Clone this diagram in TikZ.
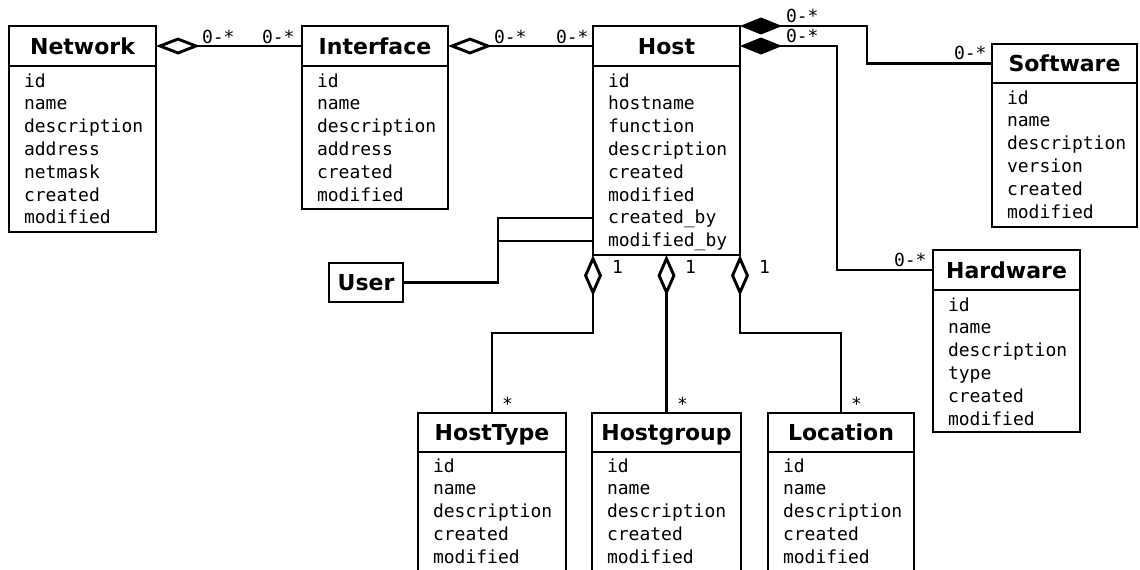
\documentclass[tikz,border=0pt]{standalone}
\usepackage{fontspec}
\newfontfamily\hdrfont{DejaVu Sans}
\newfontfamily\attrfont{DejaVu Sans Mono}
\usetikzlibrary{arrows.meta}
\tikzset{
  hdr/.style={draw, line width=2.9pt, rectangle, minimum height=40pt, inner sep=0pt, outer sep=0pt,
    font=\hdrfont\bfseries\fontsize{22}{26}\selectfont, text height=16pt, text depth=0pt},
  bodybox/.style={draw, line width=2.9pt, rectangle, inner sep=0pt, outer sep=0pt},
  attr/.style={anchor=base west, inner sep=0pt, outer sep=0pt, font=\attrfont\fontsize{18}{22}\selectfont},
  lbl/.style={attr},
  conn/.style={line width=2.9pt},
  aggopen/.style={conn, -{Diamond[open, length=44pt, width=17pt]}},
  aggopenv/.style={conn, -{Diamond[open, length=41pt, width=18pt]}},
  aggfill/.style={conn, -{Diamond[length=42pt, width=17pt]}},
}
\newcommand\umlattrs[4]{%
  \foreach \t [count=\i from 0] in {#4} \node[attr] (#1-\i) at (#2, {#3+22.8*\i}) {\t};}
\begin{document}
\begin{tikzpicture}[x=1pt, y=-1pt]
\useasboundingbox (0,0) rectangle (1140,570);
\fill[white] (0,0) rectangle (1140,570);
\clip (0,0) rectangle (1140,570);

% Network
\node[hdr, minimum width=147pt, anchor=north west] (net) at (9,26) {Network};
\node[bodybox, minimum width=147pt, minimum height=166pt, anchor=north west] (netb) at (9,66) {};
\umlattrs{neta}{24}{87}{id,name,description,address,netmask,created,modified}

% Interface
\node[hdr, minimum width=146pt, anchor=north west] (intf) at (302,26) {Interface};
\node[bodybox, minimum width=146pt, minimum height=143pt, anchor=north west] (intfb) at (302,66) {};
\umlattrs{intfa}{317}{87}{id,name,description,address,created,modified}

% Host
\node[hdr, minimum width=147pt, anchor=north west] (host) at (593,26) {Host};
\node[bodybox, minimum width=147pt, minimum height=189pt, anchor=north west] (hostb) at (593,66) {};
\umlattrs{hosta}{608}{87}{id,hostname,function,description,created,modified,created\_by,modified\_by}

% Software
\node[hdr, minimum width=145pt, minimum height=39pt, anchor=north west] (sw) at (992,44) {Software};
\node[bodybox, minimum width=145pt, minimum height=144pt, anchor=north west] (swb) at (992,83) {};
\umlattrs{swa}{1007}{104}{id,name,description,version,created,modified}

% Hardware
\node[hdr, minimum width=147pt, anchor=north west] (hw) at (933,250) {Hardware};
\node[bodybox, minimum width=147pt, minimum height=142pt, anchor=north west] (hwb) at (933,290) {};
\umlattrs{hwa}{948}{311}{id,name,description,type,created,modified}

% User
\node[hdr, minimum width=74pt, minimum height=39pt, anchor=north west] (user) at (329,263) {User};

% HostType
\node[hdr, minimum width=148pt, minimum height=39pt, anchor=north west] (ht) at (418,413) {HostType};
\node[bodybox, minimum width=148pt, minimum height=120pt, anchor=north west] (htb) at (418,452) {};
\umlattrs{hta}{433}{472}{id,name,description,created,modified}

% Hostgroup
\node[hdr, minimum width=149pt, minimum height=39pt, anchor=north west] (hg) at (592,413) {Hostgroup};
\node[bodybox, minimum width=149pt, minimum height=120pt, anchor=north west] (hgb) at (592,452) {};
\umlattrs{hga}{607}{472}{id,name,description,created,modified}

% Location
\node[hdr, minimum width=146pt, minimum height=39pt, anchor=north west] (loc) at (768,413) {Location};
\node[bodybox, minimum width=146pt, minimum height=120pt, anchor=north west] (locb) at (768,452) {};
\umlattrs{loca}{783}{472}{id,name,description,created,modified}

% junction coordinates
\coordinate (j1) at (867,26);
\coordinate (j2) at (837,46);
\coordinate (j3) at (498,218);
\coordinate (j4) at (498,241);
\coordinate (hcb) at (593,218);
\coordinate (hmb) at (593,241);
\coordinate (j5) at (593,333);
\coordinate (j6) at (740,333);

% connectors
\draw[aggopen] (intf.west) -- (net.east);
\draw[aggopen] (host.west) -- (intf.east);
\draw[aggfill] (sw.west) -| (j1) -- (host.north east);
\draw[aggfill] (hw.west) -| (j2) -- (host.east);
\draw[conn] (user.east) -| (j3) -- (hcb);
\draw[conn] (j4) -- (hmb);
\draw[aggopenv] (ht.north) |- (j5) -- (hostb.south west);
\draw[aggopenv] (hg.north) -- (hostb.south);
\draw[aggopenv] (loc.north) |- (j6) -- (hostb.south east);

% multiplicity labels
\node[lbl] (m1) at (202,43) {0-*};
\node[lbl] (m2) at (262,43) {0-*};
\node[lbl] (m3) at (494,43) {0-*};
\node[lbl] (m4) at (556,43) {0-*};
\node[lbl] (m5) at (786,23) {0-*};
\node[lbl] (m6) at (786,42) {0-*};
\node[lbl] (m7) at (954,59) {0-*};
\node[lbl] (m8) at (894,266) {0-*};
\node[lbl] (o1) at (612,273) {1};
\node[lbl] (o2) at (685,273) {1};
\node[lbl] (o3) at (759,273) {1};
\node[lbl] (s1) at (502,410) {*};
\node[lbl] (s2) at (677,410) {*};
\node[lbl] (s3) at (851,410) {*};
\end{tikzpicture}
\end{document}
